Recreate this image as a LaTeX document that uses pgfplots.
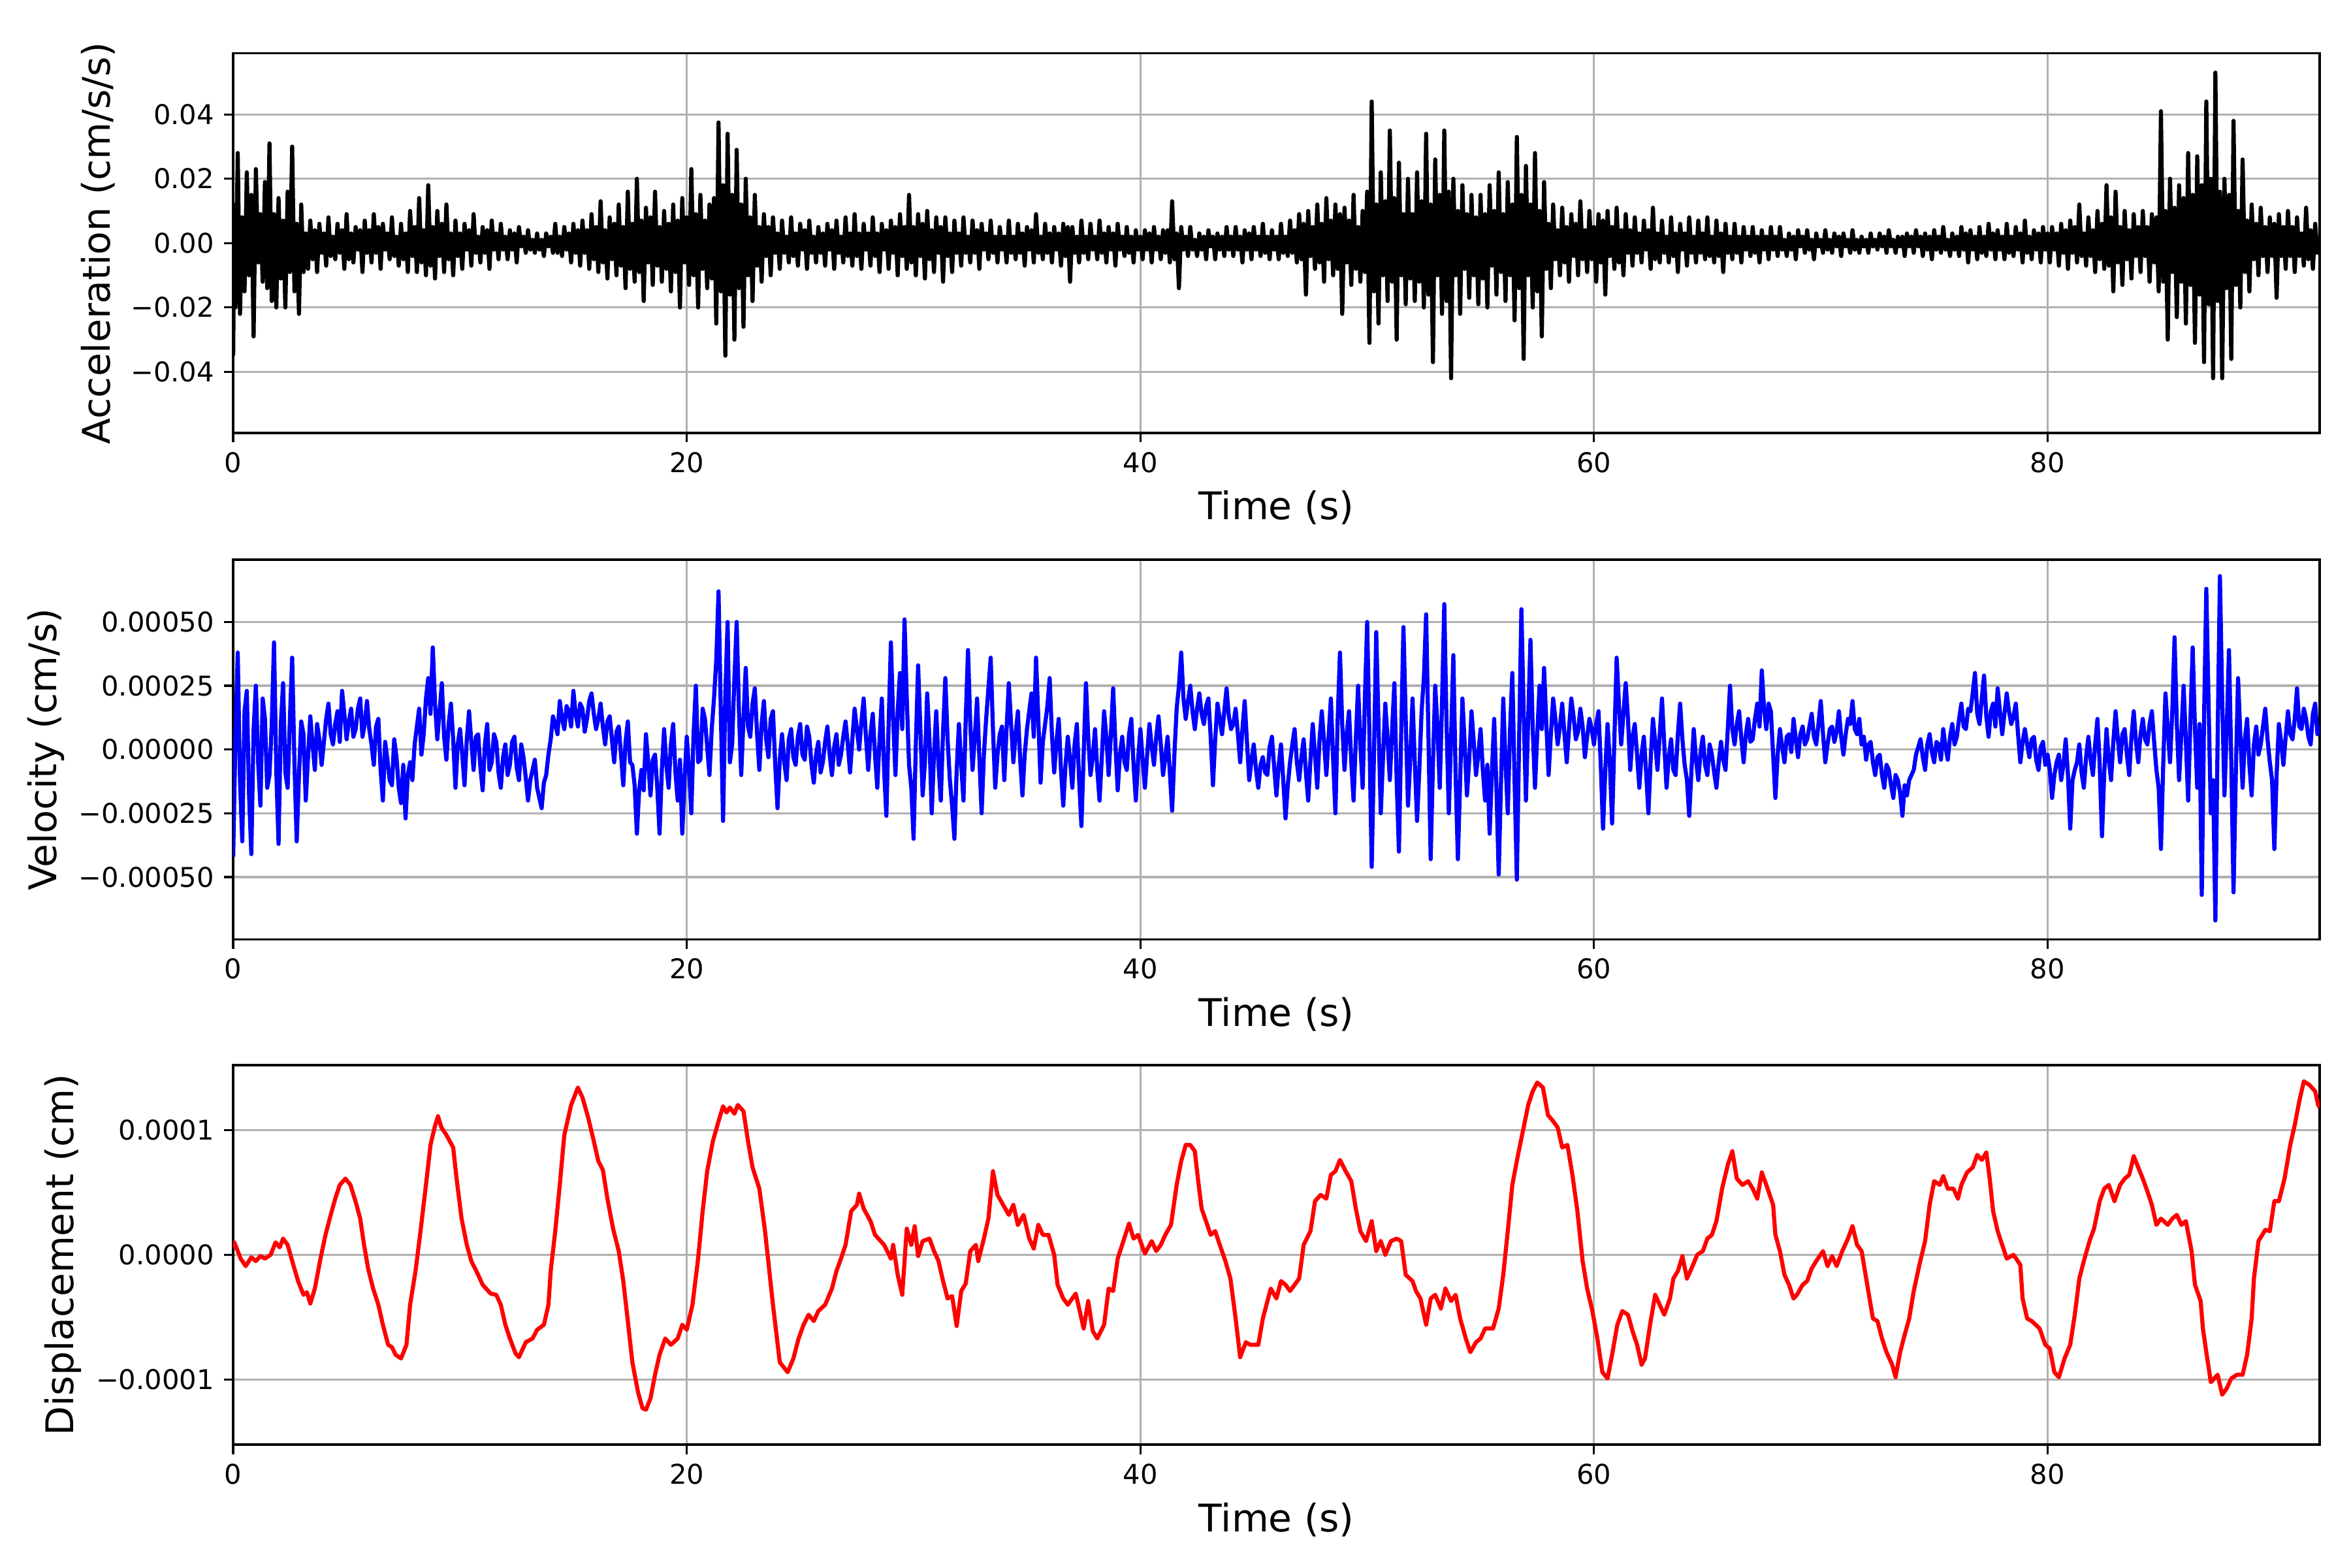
\documentclass[border=0pt]{standalone}
\usepackage{fontspec}
\setmainfont{DejaVu Sans}
\usepackage{pgfplots}
\usepackage{pgfplotstable}
\pgfplotsset{compat=1.18}
\definecolor{gridgray}{HTML}{B0B0B0}

% acceleration, a in units of 0.01 cm/s/s
\pgfplotstableread[row sep=\\]{t a\\
0 -3.5\\ 0.05 1.2\\ 0.1 -2.0\\ 0.2 2.8\\ 0.3 -2.2\\ 0.4 0.8\\ 0.5 -1.5\\ 0.6 2.2\\ 0.7 -1.0\\ 0.8 1.5\\ 0.9 -2.9\\ 1 2.3\\ 1.1 -0.6\\ 1.2 0.9\\ 1.3 -1.2\\ 1.4 1.9\\ 1.5 -1.4\\ 1.6 3.1\\ 1.7 -1.8\\ 1.8 0.9\\ 1.9 -2.0\\
2 1.4\\ 2.1 -1.1\\ 2.2 0.7\\ 2.3 -2.0\\ 2.4 1.6\\ 2.5 -0.9\\ 2.6 3.0\\ 2.7 -1.5\\ 2.8 0.6\\ 2.9 -2.2\\ 3 1.2\\ 3.1 -0.9\\ 3.2 0.3\\ 3.3 -0.8\\ 3.4 0.7\\ 3.5 -0.5\\ 3.6 0.4\\ 3.7 -0.9\\ 3.8 0.6\\ 3.9 -0.3\\
4 0.3\\ 4.1 -0.7\\ 4.2 0.8\\ 4.3 -0.4\\ 4.4 0.2\\ 4.5 -0.5\\ 4.6 0.6\\ 4.7 -0.3\\ 4.8 0.4\\ 4.9 -0.8\\ 5 0.9\\ 5.1 -0.5\\ 5.2 0.3\\ 5.3 -0.6\\ 5.4 0.5\\ 5.5 -0.2\\ 5.6 0.4\\ 5.7 -0.9\\ 5.8 0.7\\ 5.9 -0.3\\
6 0.4\\ 6.1 -0.6\\ 6.2 0.9\\ 6.3 -0.3\\ 6.4 0.5\\ 6.5 -0.8\\ 6.6 0.6\\ 6.7 -0.2\\ 6.8 0.3\\ 6.9 -0.5\\ 7 0.8\\ 7.1 -0.4\\ 7.2 0.2\\ 7.3 -0.7\\ 7.4 0.6\\ 7.5 -0.5\\ 7.6 0.3\\ 7.7 -0.9\\ 7.8 1.0\\ 7.9 -0.4\\
8 0.5\\ 8.1 -0.9\\ 8.2 1.4\\ 8.3 -0.6\\ 8.4 0.4\\ 8.5 -1.0\\ 8.6 1.8\\ 8.7 -0.7\\ 8.8 0.5\\ 8.9 -1.1\\ 9 1.0\\ 9.1 -0.4\\ 9.2 0.6\\ 9.3 -0.9\\ 9.4 1.2\\ 9.5 -0.5\\ 9.6 0.3\\ 9.7 -1.0\\ 9.8 0.7\\ 9.9 -0.4\\
10 0.3\\ 10.1 -0.8\\ 10.2 0.6\\ 10.3 -0.2\\ 10.4 0.4\\ 10.5 -0.7\\ 10.6 0.9\\ 10.7 -0.3\\ 10.8 0.2\\ 10.9 -0.6\\ 11 0.5\\ 11.1 -0.3\\ 11.2 0.4\\ 11.3 -0.8\\ 11.4 0.7\\ 11.5 -0.2\\ 11.6 0.3\\ 11.7 -0.5\\ 11.8 0.6\\ 11.9 -0.2\\
12 0.2\\ 12.1 -0.5\\ 12.2 0.4\\ 12.3 -0.2\\ 12.4 0.3\\ 12.5 -0.6\\ 12.6 0.5\\ 12.7 -0.1\\ 12.8 0.2\\ 12.9 -0.3\\ 13 0.4\\ 13.1 -0.2\\ 13.2 0.1\\ 13.3 -0.3\\ 13.4 0.3\\ 13.5 -0.2\\ 13.6 0.1\\ 13.7 -0.4\\ 13.8 0.3\\ 13.9 -0.1\\
14 0.2\\ 14.1 -0.3\\ 14.2 0.6\\ 14.3 -0.3\\ 14.4 0.2\\ 14.5 -0.4\\ 14.6 0.5\\ 14.7 -0.2\\ 14.8 0.3\\ 14.9 -0.6\\ 15 0.6\\ 15.1 -0.3\\ 15.2 0.4\\ 15.3 -0.7\\ 15.4 0.7\\ 15.5 -0.3\\ 15.6 0.4\\ 15.7 -0.8\\ 15.8 0.9\\ 15.9 -0.5\\
16 0.5\\ 16.1 -0.9\\ 16.2 1.3\\ 16.3 -0.6\\ 16.4 0.4\\ 16.5 -1.1\\ 16.6 0.8\\ 16.7 -0.5\\ 16.8 0.6\\ 16.9 -1.0\\ 17 1.2\\ 17.1 -0.7\\ 17.2 0.5\\ 17.3 -1.4\\ 17.4 1.6\\ 17.5 -0.8\\ 17.6 0.6\\ 17.7 -1.2\\ 17.8 2.0\\ 17.9 -0.9\\
18 0.7\\ 18.1 -1.8\\ 18.2 1.1\\ 18.3 -0.6\\ 18.4 0.8\\ 18.5 -1.3\\ 18.6 1.6\\ 18.7 -0.7\\ 18.8 0.5\\ 18.9 -1.2\\ 19 1.0\\ 19.1 -0.8\\ 19.2 0.6\\ 19.3 -1.5\\ 19.4 1.2\\ 19.5 -0.9\\ 19.6 0.7\\ 19.7 -2.0\\ 19.8 1.4\\ 19.9 -0.6\\
20 0.8\\ 20.1 -1.3\\ 20.2 2.3\\ 20.3 -1.0\\ 20.4 0.9\\ 20.5 -2.0\\ 20.6 1.5\\ 20.7 -0.8\\ 20.8 0.7\\ 20.9 -1.4\\ 21 1.2\\ 21.1 -1.1\\ 21.2 1.4\\ 21.3 -2.5\\ 21.4 3.75\\ 21.5 -1.5\\ 21.6 1.8\\ 21.7 -3.5\\ 21.8 3.4\\ 21.9 -1.6\\
22 1.5\\ 22.1 -3.0\\ 22.2 2.9\\ 22.3 -1.4\\ 22.4 1.2\\ 22.5 -2.6\\ 22.6 2.0\\ 22.7 -1.0\\ 22.8 0.8\\ 22.9 -1.8\\ 23 1.5\\ 23.1 -0.7\\ 23.2 0.5\\ 23.3 -1.2\\ 23.4 0.9\\ 23.5 -0.4\\ 23.6 0.5\\ 23.7 -1.0\\ 23.8 0.8\\ 23.9 -0.3\\
24 0.3\\ 24.1 -0.8\\ 24.2 0.7\\ 24.3 -0.3\\ 24.4 0.2\\ 24.5 -0.6\\ 24.6 0.8\\ 24.7 -0.4\\ 24.8 0.3\\ 24.9 -0.7\\ 25 0.6\\ 25.1 -0.2\\ 25.2 0.4\\ 25.3 -0.8\\ 25.4 0.7\\ 25.5 -0.3\\ 25.6 0.2\\ 25.7 -0.6\\ 25.8 0.5\\ 25.9 -0.3\\
26 0.3\\ 26.1 -0.7\\ 26.2 0.6\\ 26.3 -0.2\\ 26.4 0.4\\ 26.5 -0.8\\ 26.6 0.7\\ 26.7 -0.3\\ 26.8 0.2\\ 26.9 -0.6\\ 27 0.8\\ 27.1 -0.4\\ 27.2 0.3\\ 27.3 -0.7\\ 27.4 0.9\\ 27.5 -0.4\\ 27.6 0.3\\ 27.7 -0.8\\ 27.8 0.6\\ 27.9 -0.2\\
28 0.3\\ 28.1 -0.7\\ 28.2 0.8\\ 28.3 -0.4\\ 28.4 0.3\\ 28.5 -0.9\\ 28.6 0.6\\ 28.7 -0.2\\ 28.8 0.4\\ 28.9 -0.8\\ 29 0.7\\ 29.1 -0.3\\ 29.2 0.5\\ 29.3 -1.0\\ 29.4 0.9\\ 29.5 -0.4\\ 29.6 0.5\\ 29.7 -0.8\\ 29.8 1.5\\ 29.9 -0.6\\
30 0.5\\ 30.1 -1.0\\ 30.2 0.9\\ 30.3 -0.4\\ 30.4 0.6\\ 30.5 -1.1\\ 30.6 1.0\\ 30.7 -0.5\\ 30.8 0.4\\ 30.9 -0.9\\ 31 0.8\\ 31.1 -0.3\\ 31.2 0.5\\ 31.3 -1.2\\ 31.4 0.8\\ 31.5 -0.4\\ 31.6 0.3\\ 31.7 -0.9\\ 31.8 0.7\\ 31.9 -0.3\\
32 0.3\\ 32.1 -0.7\\ 32.2 0.8\\ 32.3 -0.3\\ 32.4 0.2\\ 32.5 -0.6\\ 32.6 0.7\\ 32.7 -0.3\\ 32.8 0.4\\ 32.9 -0.8\\ 33 0.6\\ 33.1 -0.2\\ 33.2 0.3\\ 33.3 -0.5\\ 33.4 0.7\\ 33.5 -0.3\\ 33.6 0.2\\ 33.7 -0.6\\ 33.8 0.5\\ 33.9 -0.2\\
34 0.2\\ 34.1 -0.6\\ 34.2 0.7\\ 34.3 -0.3\\ 34.4 0.2\\ 34.5 -0.5\\ 34.6 0.6\\ 34.7 -0.3\\ 34.8 0.3\\ 34.9 -0.7\\ 35 0.5\\ 35.1 -0.2\\ 35.2 0.4\\ 35.3 -0.6\\ 35.4 0.9\\ 35.5 -0.3\\ 35.6 0.2\\ 35.7 -0.5\\ 35.8 0.6\\ 35.9 -0.3\\
36 0.3\\ 36.1 -0.6\\ 36.2 0.5\\ 36.3 -0.2\\ 36.4 0.3\\ 36.5 -0.7\\ 36.6 0.6\\ 36.7 -0.4\\ 36.8 0.5\\ 36.9 -1.2\\ 37 0.5\\ 37.1 -0.3\\ 37.2 0.2\\ 37.3 -0.6\\ 37.4 0.7\\ 37.5 -0.3\\ 37.6 0.2\\ 37.7 -0.5\\ 37.8 0.6\\ 37.9 -0.2\\
38 0.2\\ 38.1 -0.5\\ 38.2 0.7\\ 38.3 -0.3\\ 38.4 0.3\\ 38.5 -0.6\\ 38.6 0.5\\ 38.7 -0.2\\ 38.8 0.3\\ 38.9 -0.7\\ 39 0.6\\ 39.1 -0.2\\ 39.2 0.2\\ 39.3 -0.4\\ 39.4 0.5\\ 39.5 -0.3\\ 39.6 0.2\\ 39.7 -0.6\\ 39.8 0.4\\ 39.9 -0.2\\
40 0.2\\ 40.1 -0.5\\ 40.2 0.4\\ 40.3 -0.2\\ 40.4 0.3\\ 40.5 -0.6\\ 40.6 0.5\\ 40.7 -0.2\\ 40.8 0.2\\ 40.9 -0.5\\ 41 0.4\\ 41.1 -0.3\\ 41.2 0.4\\ 41.3 -0.6\\ 41.4 1.3\\ 41.5 -0.5\\ 41.6 0.3\\ 41.7 -1.4\\ 41.8 0.5\\ 41.9 -0.2\\
42 0.2\\ 42.1 -0.4\\ 42.2 0.5\\ 42.3 -0.2\\ 42.4 0.1\\ 42.5 -0.4\\ 42.6 0.3\\ 42.7 -0.2\\ 42.8 0.2\\ 42.9 -0.5\\ 43 0.4\\ 43.1 -0.1\\ 43.2 0.2\\ 43.3 -0.5\\ 43.4 0.3\\ 43.5 -0.2\\ 43.6 0.2\\ 43.7 -0.4\\ 43.8 0.5\\ 43.9 -0.2\\
44 0.2\\ 44.1 -0.4\\ 44.2 0.5\\ 44.3 -0.2\\ 44.4 0.2\\ 44.5 -0.6\\ 44.6 0.4\\ 44.7 -0.2\\ 44.8 0.3\\ 44.9 -0.5\\ 45 0.5\\ 45.1 -0.2\\ 45.2 0.2\\ 45.3 -0.4\\ 45.4 0.6\\ 45.5 -0.3\\ 45.6 0.2\\ 45.7 -0.5\\ 45.8 0.4\\ 45.9 -0.2\\
46 0.2\\ 46.1 -0.5\\ 46.2 0.6\\ 46.3 -0.3\\ 46.4 0.2\\ 46.5 -0.4\\ 46.6 0.7\\ 46.7 -0.3\\ 46.8 0.4\\ 46.9 -0.6\\ 47 0.9\\ 47.1 -0.5\\ 47.2 0.6\\ 47.3 -1.6\\ 47.4 1.0\\ 47.5 -0.4\\ 47.6 0.5\\ 47.7 -0.8\\ 47.8 1.2\\ 47.9 -0.6\\
48 0.6\\ 48.1 -1.2\\ 48.2 1.4\\ 48.3 -0.5\\ 48.4 0.7\\ 48.5 -1.0\\ 48.6 1.2\\ 48.7 -0.8\\ 48.8 0.9\\ 48.9 -2.2\\ 49 1.1\\ 49.1 -0.6\\ 49.2 0.7\\ 49.3 -1.3\\ 49.4 1.5\\ 49.5 -0.8\\ 49.6 0.5\\ 49.7 -1.2\\ 49.8 1.0\\ 49.9 -0.9\\
50 1.6\\ 50.1 -3.1\\ 50.2 4.4\\ 50.3 -1.5\\ 50.4 1.2\\ 50.5 -2.5\\ 50.6 2.2\\ 50.7 -1.0\\ 50.8 1.3\\ 50.9 -1.8\\ 51 3.5\\ 51.1 -1.2\\ 51.2 1.4\\ 51.3 -3.0\\ 51.4 2.5\\ 51.5 -1.0\\ 51.6 0.9\\ 51.7 -1.9\\ 51.8 2.0\\ 51.9 -1.1\\
52 0.9\\ 52.1 -1.8\\ 52.2 2.2\\ 52.3 -1.2\\ 52.4 1.3\\ 52.5 -2.0\\ 52.6 3.4\\ 52.7 -1.6\\ 52.8 1.2\\ 52.9 -3.7\\ 53 2.6\\ 53.1 -1.0\\ 53.2 1.5\\ 53.3 -2.2\\ 53.4 3.5\\ 53.5 -1.8\\ 53.6 1.6\\ 53.7 -4.2\\ 53.8 2.0\\ 53.9 -1.0\\
54 1.0\\ 54.1 -2.2\\ 54.2 1.8\\ 54.3 -0.8\\ 54.4 0.9\\ 54.5 -1.7\\ 54.6 1.5\\ 54.7 -1.0\\ 54.8 0.8\\ 54.9 -1.9\\ 55 1.5\\ 55.1 -1.1\\ 55.2 0.9\\ 55.3 -2.0\\ 55.4 1.8\\ 55.5 -0.7\\ 55.6 1.0\\ 55.7 -1.6\\ 55.8 2.2\\ 55.9 -0.9\\
56 0.9\\ 56.1 -1.8\\ 56.2 1.9\\ 56.3 -1.0\\ 56.4 1.2\\ 56.5 -2.4\\ 56.6 3.3\\ 56.7 -1.4\\ 56.8 1.5\\ 56.9 -3.6\\ 57 2.4\\ 57.1 -1.0\\ 57.2 1.2\\ 57.3 -2.0\\ 57.4 2.8\\ 57.5 -1.5\\ 57.6 1.0\\ 57.7 -2.9\\ 57.8 1.9\\ 57.9 -0.8\\
58 0.6\\ 58.1 -1.4\\ 58.2 1.2\\ 58.3 -0.5\\ 58.4 0.4\\ 58.5 -1.0\\ 58.6 1.1\\ 58.7 -0.6\\ 58.8 0.5\\ 58.9 -1.2\\ 59 0.9\\ 59.1 -0.4\\ 59.2 0.6\\ 59.3 -1.0\\ 59.4 1.3\\ 59.5 -0.5\\ 59.6 0.4\\ 59.7 -0.9\\ 59.8 1.0\\ 59.9 -0.5\\
60 0.5\\ 60.1 -1.2\\ 60.2 0.9\\ 60.3 -0.6\\ 60.4 0.7\\ 60.5 -1.6\\ 60.6 1.0\\ 60.7 -0.4\\ 60.8 0.5\\ 60.9 -0.8\\ 61 1.1\\ 61.1 -0.6\\ 61.2 0.4\\ 61.3 -1.0\\ 61.4 0.9\\ 61.5 -0.3\\ 61.6 0.4\\ 61.7 -0.7\\ 61.8 0.8\\ 61.9 -0.3\\
62 0.3\\ 62.1 -0.6\\ 62.2 0.7\\ 62.3 -0.2\\ 62.4 0.4\\ 62.5 -0.8\\ 62.6 1.1\\ 62.7 -0.5\\ 62.8 0.3\\ 62.9 -0.6\\ 63 0.7\\ 63.1 -0.3\\ 63.2 0.2\\ 63.3 -0.6\\ 63.4 0.8\\ 63.5 -0.4\\ 63.6 0.3\\ 63.7 -0.9\\ 63.8 0.6\\ 63.9 -0.2\\
64 0.3\\ 64.1 -0.7\\ 64.2 0.8\\ 64.3 -0.3\\ 64.4 0.2\\ 64.5 -0.6\\ 64.6 0.7\\ 64.7 -0.3\\ 64.8 0.3\\ 64.9 -0.5\\ 65 0.8\\ 65.1 -0.4\\ 65.2 0.2\\ 65.3 -0.6\\ 65.4 0.7\\ 65.5 -0.4\\ 65.6 0.3\\ 65.7 -0.9\\ 65.8 0.6\\ 65.9 -0.3\\
66 0.2\\ 66.1 -0.5\\ 66.2 0.6\\ 66.3 -0.3\\ 66.4 0.2\\ 66.5 -0.6\\ 66.6 0.5\\ 66.7 -0.2\\ 66.8 0.2\\ 66.9 -0.4\\ 67 0.5\\ 67.1 -0.3\\ 67.2 0.2\\ 67.3 -0.6\\ 67.4 0.4\\ 67.5 -0.2\\ 67.6 0.2\\ 67.7 -0.5\\ 67.8 0.5\\ 67.9 -0.2\\
68 0.2\\ 68.1 -0.4\\ 68.2 0.5\\ 68.3 -0.2\\ 68.4 0.1\\ 68.5 -0.4\\ 68.6 0.3\\ 68.7 -0.2\\ 68.8 0.2\\ 68.9 -0.5\\ 69 0.4\\ 69.1 -0.1\\ 69.2 0.2\\ 69.3 -0.3\\ 69.4 0.4\\ 69.5 -0.2\\ 69.6 0.1\\ 69.7 -0.5\\ 69.8 0.3\\ 69.9 -0.1\\
70 0.1\\ 70.1 -0.3\\ 70.2 0.4\\ 70.3 -0.2\\ 70.4 0.1\\ 70.5 -0.3\\ 70.6 0.3\\ 70.7 -0.1\\ 70.8 0.2\\ 70.9 -0.4\\ 71 0.3\\ 71.1 -0.1\\ 71.2 0.1\\ 71.3 -0.3\\ 71.4 0.4\\ 71.5 -0.2\\ 71.6 0.1\\ 71.7 -0.3\\ 71.8 0.2\\ 71.9 -0.1\\
72 0.1\\ 72.1 -0.3\\ 72.2 0.3\\ 72.3 -0.1\\ 72.4 0.1\\ 72.5 -0.2\\ 72.6 0.3\\ 72.7 -0.1\\ 72.8 0.2\\ 72.9 -0.3\\ 73 0.4\\ 73.1 -0.1\\ 73.2 0.1\\ 73.3 -0.3\\ 73.4 0.2\\ 73.5 -0.1\\ 73.6 0.2\\ 73.7 -0.4\\ 73.8 0.3\\ 73.9 -0.1\\
74 0.2\\ 74.1 -0.3\\ 74.2 0.4\\ 74.3 -0.1\\ 74.4 0.2\\ 74.5 -0.4\\ 74.6 0.3\\ 74.7 -0.2\\ 74.8 0.2\\ 74.9 -0.5\\ 75 0.4\\ 75.1 -0.2\\ 75.2 0.2\\ 75.3 -0.3\\ 75.4 0.5\\ 75.5 -0.2\\ 75.6 0.1\\ 75.7 -0.4\\ 75.8 0.3\\ 75.9 -0.2\\
76 0.2\\ 76.1 -0.4\\ 76.2 0.5\\ 76.3 -0.2\\ 76.4 0.3\\ 76.5 -0.6\\ 76.6 0.4\\ 76.7 -0.2\\ 76.8 0.2\\ 76.9 -0.5\\ 77 0.5\\ 77.1 -0.3\\ 77.2 0.2\\ 77.3 -0.4\\ 77.4 0.6\\ 77.5 -0.2\\ 77.6 0.3\\ 77.7 -0.5\\ 77.8 0.4\\ 77.9 -0.2\\
78 0.2\\ 78.1 -0.5\\ 78.2 0.6\\ 78.3 -0.3\\ 78.4 0.2\\ 78.5 -0.4\\ 78.6 0.5\\ 78.7 -0.2\\ 78.8 0.3\\ 78.9 -0.6\\ 79 0.7\\ 79.1 -0.3\\ 79.2 0.2\\ 79.3 -0.5\\ 79.4 0.4\\ 79.5 -0.2\\ 79.6 0.3\\ 79.7 -0.6\\ 79.8 0.5\\ 79.9 -0.2\\
80 0.3\\ 80.1 -0.6\\ 80.2 0.5\\ 80.3 -0.2\\ 80.4 0.3\\ 80.5 -0.7\\ 80.6 0.6\\ 80.7 -0.3\\ 80.8 0.4\\ 80.9 -0.8\\ 81 0.7\\ 81.1 -0.3\\ 81.2 0.5\\ 81.3 -0.6\\ 81.4 1.2\\ 81.5 -0.4\\ 81.6 0.3\\ 81.7 -0.7\\ 81.8 0.8\\ 81.9 -0.4\\
82 0.4\\ 82.1 -0.9\\ 82.2 1.0\\ 82.3 -0.5\\ 82.4 0.6\\ 82.5 -0.8\\ 82.6 1.8\\ 82.7 -0.7\\ 82.8 0.8\\ 82.9 -1.5\\ 83 1.6\\ 83.1 -0.6\\ 83.2 0.5\\ 83.3 -1.3\\ 83.4 1.0\\ 83.5 -0.5\\ 83.6 0.4\\ 83.7 -1.1\\ 83.8 0.9\\ 83.9 -0.4\\
84 0.5\\ 84.1 -0.9\\ 84.2 1.0\\ 84.3 -0.4\\ 84.4 0.5\\ 84.5 -1.2\\ 84.6 0.9\\ 84.7 -0.6\\ 84.8 0.8\\ 84.9 -1.5\\ 85 4.1\\ 85.1 -1.2\\ 85.2 1.0\\ 85.3 -3.0\\ 85.4 2.0\\ 85.5 -0.9\\ 85.6 1.1\\ 85.7 -2.3\\ 85.8 1.8\\ 85.9 -1.2\\
86 1.4\\ 86.1 -2.5\\ 86.2 2.8\\ 86.3 -1.3\\ 86.4 1.5\\ 86.5 -3.1\\ 86.6 2.7\\ 86.7 -1.6\\ 86.8 1.8\\ 86.9 -3.7\\ 87 4.4\\ 87.1 -1.9\\ 87.2 2.0\\ 87.3 -4.2\\ 87.4 5.3\\ 87.5 -1.8\\ 87.6 1.6\\ 87.7 -4.2\\ 87.8 2.0\\ 87.9 -1.4\\
88 1.5\\ 88.1 -3.6\\ 88.2 3.8\\ 88.3 -1.3\\ 88.4 1.0\\ 88.5 -2.0\\ 88.6 2.6\\ 88.7 -0.9\\ 88.8 0.7\\ 88.9 -1.5\\ 89 1.2\\ 89.1 -0.5\\ 89.2 0.6\\ 89.3 -1.0\\ 89.4 1.1\\ 89.5 -0.4\\ 89.6 0.5\\ 89.7 -0.9\\ 89.8 0.8\\ 89.9 -0.4\\
90 0.6\\ 90.1 -1.7\\ 90.2 0.9\\ 90.3 -0.4\\ 90.4 0.5\\ 90.5 -0.8\\ 90.6 1.0\\ 90.7 -0.4\\ 90.8 0.5\\ 90.9 -0.9\\ 91 0.8\\ 91.1 -0.4\\ 91.2 0.3\\ 91.3 -0.7\\ 91.4 1.1\\ 91.5 -0.5\\ 91.6 0.4\\ 91.7 -0.8\\ 91.8 0.6\\ 91.9 -0.3\\
92 0.2\\
}\acc

% velocity, v in units of 0.0001 cm/s
\pgfplotstableread[row sep=\\]{t v\\
0 -4.2\\ 0.1 0.5\\ 0.2 3.8\\ 0.3 -1.2\\ 0.4 -3.6\\ 0.5 1.5\\ 0.6 2.3\\ 0.7 -1.8\\ 0.8 -4.1\\ 0.9 0.8\\ 1 2.5\\ 1.1 -0.5\\ 1.2 -2.2\\ 1.3 2.0\\ 1.4 1.2\\ 1.5 -1.5\\ 1.6 -1.0\\ 1.7 1.0\\ 1.8 4.2\\ 1.9 -0.8\\
2 -3.7\\ 2.1 1.0\\ 2.2 2.6\\ 2.3 -0.9\\ 2.4 -1.5\\ 2.5 1.2\\ 2.6 3.6\\ 2.7 -0.5\\ 2.8 -3.6\\ 2.9 -1.0\\ 3 1.1\\ 3.1 0.6\\ 3.2 -2.0\\ 3.3 -0.3\\ 3.4 1.3\\ 3.5 0.2\\ 3.6 -0.8\\ 3.7 1.0\\ 3.8 0.4\\ 3.9 -0.6\\
4 0.3\\ 4.1 1.2\\ 4.2 1.8\\ 4.3 0.6\\ 4.4 0.2\\ 4.5 1.0\\ 4.6 1.5\\ 4.7 0.3\\ 4.8 2.3\\ 4.9 1.4\\ 5 0.4\\ 5.1 1.1\\ 5.2 1.6\\ 5.3 0.5\\ 5.4 0.8\\ 5.5 1.6\\ 5.6 2.0\\ 5.7 0.5\\ 5.8 1.0\\ 5.9 1.9\\
6 0.8\\ 6.1 0.2\\ 6.2 -0.6\\ 6.3 0.9\\ 6.4 1.2\\ 6.5 -0.8\\ 6.6 -2.0\\ 6.7 0.3\\ 6.8 -0.4\\ 6.9 -1.2\\ 7 -1.4\\ 7.1 0.4\\ 7.2 -0.3\\ 7.3 -1.5\\ 7.4 -2.1\\ 7.5 -0.6\\ 7.6 -2.7\\ 7.7 -1.0\\ 7.8 -0.5\\ 7.9 -1.2\\
8 0.2\\ 8.1 0.9\\ 8.2 1.6\\ 8.3 -0.2\\ 8.4 0.6\\ 8.5 2.0\\ 8.6 2.8\\ 8.7 1.4\\ 8.8 4.0\\ 8.9 1.8\\ 9 0.4\\ 9.1 1.5\\ 9.2 2.6\\ 9.3 0.5\\ 9.4 -0.4\\ 9.5 1.0\\ 9.6 1.8\\ 9.7 0.4\\ 9.8 -1.5\\ 9.9 0.2\\
10 0.8\\ 10.1 -0.2\\ 10.2 -1.4\\ 10.3 0.4\\ 10.4 1.5\\ 10.5 0.3\\ 10.6 -0.8\\ 10.7 0.5\\ 10.8 0.6\\ 10.9 -0.7\\ 11 -1.6\\ 11.1 0.2\\ 11.2 1.0\\ 11.3 -0.8\\ 11.4 -0.5\\ 11.5 0.6\\ 11.6 0.3\\ 11.7 -0.9\\ 11.8 -1.5\\ 11.9 -0.3\\
12 0.2\\ 12.1 -1.0\\ 12.2 -0.6\\ 12.3 0.3\\ 12.4 0.5\\ 12.5 -0.7\\ 12.6 -1.2\\ 12.7 0.2\\ 12.8 -0.3\\ 12.9 -1.1\\ 13 -2.0\\ 13.1 -1.2\\ 13.2 -0.8\\ 13.3 -0.4\\ 13.4 -1.5\\ 13.5 -1.9\\ 13.6 -2.3\\ 13.7 -1.3\\ 13.8 -1.0\\ 13.9 -0.2\\
14 0.4\\ 14.1 1.3\\ 14.2 1.0\\ 14.3 0.6\\ 14.4 1.9\\ 14.5 1.2\\ 14.6 0.8\\ 14.7 1.7\\ 14.8 1.5\\ 14.9 0.9\\ 15 2.3\\ 15.1 1.4\\ 15.2 0.9\\ 15.3 1.8\\ 15.4 1.6\\ 15.5 0.7\\ 15.6 1.2\\ 15.7 1.9\\ 15.8 2.2\\ 15.9 1.4\\
16 0.8\\ 16.1 1.2\\ 16.2 1.8\\ 16.3 0.9\\ 16.4 0.2\\ 16.5 1.1\\ 16.6 1.3\\ 16.7 0.4\\ 16.8 -0.5\\ 16.9 0.7\\ 17 0.9\\ 17.1 -0.2\\ 17.2 -1.4\\ 17.3 0.3\\ 17.4 1.1\\ 17.5 -0.5\\ 17.6 -0.6\\ 17.7 -1.4\\ 17.8 -3.3\\ 17.9 -1.6\\
18 -0.8\\ 18.1 -1.6\\ 18.2 0.6\\ 18.3 -0.5\\ 18.4 -1.8\\ 18.5 -0.4\\ 18.6 -0.2\\ 18.7 -1.5\\ 18.8 -3.3\\ 18.9 -0.8\\ 19 0.8\\ 19.1 -0.6\\ 19.2 -1.5\\ 19.3 0.2\\ 19.4 1.0\\ 19.5 -0.9\\ 19.6 -2.0\\ 19.7 -0.4\\ 19.8 -3.3\\ 19.9 -1.2\\
20 0.5\\ 20.1 -0.8\\ 20.2 -2.5\\ 20.3 0.6\\ 20.4 2.5\\ 20.5 -0.5\\ 20.6 -0.4\\ 20.7 1.6\\ 20.8 1.2\\ 20.9 0.1\\ 21 -1.0\\ 21.1 0.8\\ 21.2 2.0\\ 21.3 3.5\\ 21.4 6.2\\ 21.5 1.5\\ 21.6 -2.8\\ 21.7 2.2\\ 21.8 5.0\\ 21.9 -0.5\\
22 0.2\\ 22.1 2.8\\ 22.2 5.0\\ 22.3 1.5\\ 22.4 -1.0\\ 22.5 1.2\\ 22.6 3.2\\ 22.7 0.9\\ 22.8 0.5\\ 22.9 1.8\\ 23 2.4\\ 23.1 0.6\\ 23.2 -0.8\\ 23.3 1.0\\ 23.4 1.9\\ 23.5 0.4\\ 23.6 -0.3\\ 23.7 1.2\\ 23.8 1.5\\ 23.9 -0.6\\
24 -2.3\\ 24.1 -0.4\\ 24.2 0.6\\ 24.3 -0.5\\ 24.4 -1.2\\ 24.5 0.4\\ 24.6 0.8\\ 24.7 -0.3\\ 24.8 -0.6\\ 24.9 0.5\\ 25 1.0\\ 25.1 -0.2\\ 25.2 -0.4\\ 25.3 0.9\\ 25.4 0.5\\ 25.5 -0.6\\ 25.6 -1.3\\ 25.7 -0.2\\ 25.8 0.3\\ 25.9 -0.9\\
26 -0.5\\ 26.1 0.3\\ 26.2 0.9\\ 26.3 -0.2\\ 26.4 -1.0\\ 26.5 0.1\\ 26.6 0.6\\ 26.7 -0.6\\ 26.8 -0.2\\ 26.9 0.5\\ 27 1.1\\ 27.1 0.2\\ 27.2 -0.9\\ 27.3 0.4\\ 27.4 1.6\\ 27.5 0.8\\ 27.6 0.0\\ 27.7 1.1\\ 27.8 2.0\\ 27.9 0.5\\
28 -0.8\\ 28.1 0.6\\ 28.2 1.4\\ 28.3 -0.2\\ 28.4 -1.5\\ 28.5 0.4\\ 28.6 2.0\\ 28.7 -0.8\\ 28.8 -2.6\\ 28.9 1.0\\ 29 4.2\\ 29.1 1.2\\ 29.2 -1.0\\ 29.3 1.5\\ 29.4 3.0\\ 29.5 0.8\\ 29.6 5.1\\ 29.7 2.0\\ 29.8 -0.6\\ 29.9 -1.5\\
30 -3.5\\ 30.1 0.2\\ 30.2 3.3\\ 30.3 0.8\\ 30.4 -1.8\\ 30.5 -0.5\\ 30.6 2.2\\ 30.7 0.4\\ 30.8 -2.5\\ 30.9 -0.2\\ 31 1.5\\ 31.1 -0.6\\ 31.2 -2.0\\ 31.3 0.7\\ 31.4 2.8\\ 31.5 0.4\\ 31.6 -1.2\\ 31.7 -2.2\\ 31.8 -3.5\\ 31.9 -0.8\\
32 1.0\\ 32.1 -0.6\\ 32.2 -2.0\\ 32.3 1.2\\ 32.4 3.9\\ 32.5 1.0\\ 32.6 -0.8\\ 32.7 0.5\\ 32.8 2.0\\ 32.9 -0.3\\ 33 -2.5\\ 33.1 -0.2\\ 33.2 1.2\\ 33.3 2.4\\ 33.4 3.6\\ 33.5 0.8\\ 33.6 -1.5\\ 33.7 -0.2\\ 33.8 0.6\\ 33.9 0.9\\
34 -1.2\\ 34.1 0.8\\ 34.2 2.6\\ 34.3 1.0\\ 34.4 -0.5\\ 34.5 0.6\\ 34.6 1.5\\ 34.7 -0.4\\ 34.8 -1.8\\ 34.9 -0.2\\ 35 0.8\\ 35.1 1.5\\ 35.2 2.2\\ 35.3 0.5\\ 35.4 3.6\\ 35.5 1.2\\ 35.6 -1.3\\ 35.7 0.3\\ 35.8 1.0\\ 35.9 1.7\\
36 2.8\\ 36.1 0.6\\ 36.2 -0.9\\ 36.3 0.3\\ 36.4 1.2\\ 36.5 -0.8\\ 36.6 -2.2\\ 36.7 -0.6\\ 36.8 0.5\\ 36.9 -0.4\\ 37 -1.5\\ 37.1 0.2\\ 37.2 1.0\\ 37.3 -1.2\\ 37.4 -3.0\\ 37.5 -0.2\\ 37.6 2.6\\ 37.7 0.5\\ 37.8 -1.0\\ 37.9 -0.3\\
38 0.8\\ 38.1 -0.8\\ 38.2 -2.0\\ 38.3 -0.3\\ 38.4 1.5\\ 38.5 0.5\\ 38.6 -1.0\\ 38.7 0.6\\ 38.8 2.4\\ 38.9 0.2\\ 39 -1.6\\ 39.1 -0.2\\ 39.2 0.5\\ 39.3 -0.5\\ 39.4 -0.8\\ 39.5 0.6\\ 39.6 1.2\\ 39.7 -0.6\\ 39.8 -2.0\\ 39.9 -0.4\\
40 0.8\\ 40.1 -0.4\\ 40.2 -1.5\\ 40.3 -0.2\\ 40.4 1.0\\ 40.5 0.1\\ 40.6 -0.6\\ 40.7 0.5\\ 40.8 1.3\\ 40.9 0.2\\ 41 -1.0\\ 41.1 -0.3\\ 41.2 0.5\\ 41.3 -0.9\\ 41.4 -2.4\\ 41.5 -0.2\\ 41.6 1.6\\ 41.7 2.5\\ 41.8 3.8\\ 41.9 2.0\\
42 1.2\\ 42.1 1.9\\ 42.2 2.5\\ 42.3 1.5\\ 42.4 0.8\\ 42.5 1.6\\ 42.6 2.2\\ 42.7 1.4\\ 42.8 1.0\\ 42.9 1.7\\ 43 2.0\\ 43.1 0.5\\ 43.2 -1.4\\ 43.3 0.4\\ 43.4 1.8\\ 43.5 1.2\\ 43.6 0.6\\ 43.7 1.5\\ 43.8 2.4\\ 43.9 1.3\\
44 0.8\\ 44.1 1.0\\ 44.2 1.6\\ 44.3 0.6\\ 44.4 -0.5\\ 44.5 0.8\\ 44.6 1.9\\ 44.7 0.3\\ 44.8 -1.2\\ 44.9 -0.4\\ 45 0.2\\ 45.1 -0.8\\ 45.2 -1.5\\ 45.3 -0.6\\ 45.4 -0.3\\ 45.5 -0.9\\ 45.6 -1.0\\ 45.7 0.1\\ 45.8 0.5\\ 45.9 -0.7\\
46 -1.8\\ 46.1 -0.6\\ 46.2 0.2\\ 46.3 -1.2\\ 46.4 -2.7\\ 46.5 -1.4\\ 46.6 -0.5\\ 46.7 0.2\\ 46.8 0.8\\ 46.9 -0.5\\ 47 -1.2\\ 47.1 -0.3\\ 47.2 0.4\\ 47.3 -0.9\\ 47.4 -2.0\\ 47.5 -0.4\\ 47.6 1.0\\ 47.7 -0.2\\ 47.8 -1.5\\ 47.9 0.4\\
48 1.5\\ 48.1 0.3\\ 48.2 -1.0\\ 48.3 0.5\\ 48.4 2.0\\ 48.5 -0.4\\ 48.6 -2.5\\ 48.7 1.2\\ 48.8 3.8\\ 48.9 1.0\\ 49 -0.8\\ 49.1 0.6\\ 49.2 1.5\\ 49.3 -0.5\\ 49.4 -2.0\\ 49.5 0.4\\ 49.6 2.5\\ 49.7 0.2\\ 49.8 -1.5\\ 49.9 2.0\\
50 5.0\\ 50.1 0.5\\ 50.2 -4.6\\ 50.3 -0.2\\ 50.4 4.6\\ 50.5 1.0\\ 50.6 -2.5\\ 50.7 -0.3\\ 50.8 1.8\\ 50.9 0.4\\ 51 -1.2\\ 51.1 0.8\\ 51.2 2.6\\ 51.3 -1.2\\ 51.4 -4.0\\ 51.5 0.6\\ 51.6 4.8\\ 51.7 1.2\\ 51.8 -2.2\\ 51.9 -0.4\\
52 2.0\\ 52.1 -0.5\\ 52.2 -2.8\\ 52.3 -0.8\\ 52.4 1.5\\ 52.5 2.8\\ 52.6 5.3\\ 52.7 0.6\\ 52.8 -4.3\\ 52.9 -0.6\\ 53 2.5\\ 53.1 0.9\\ 53.2 -1.5\\ 53.3 1.8\\ 53.4 5.7\\ 53.5 1.0\\ 53.6 -2.5\\ 53.7 0.5\\ 53.8 3.7\\ 53.9 -1.0\\
54 -4.3\\ 54.1 -1.2\\ 54.2 2.0\\ 54.3 0.2\\ 54.4 -1.8\\ 54.5 -0.4\\ 54.6 1.5\\ 54.7 0.3\\ 54.8 -1.0\\ 54.9 -0.2\\ 55 0.8\\ 55.1 -0.8\\ 55.2 -2.0\\ 55.3 -0.6\\ 55.4 -3.3\\ 55.5 -0.9\\ 55.6 1.2\\ 55.7 -1.5\\ 55.8 -4.9\\ 55.9 -1.3\\
56 2.0\\ 56.1 -0.5\\ 56.2 -2.5\\ 56.3 0.8\\ 56.4 3.0\\ 56.5 -1.2\\ 56.6 -5.1\\ 56.7 0.4\\ 56.8 5.5\\ 56.9 1.5\\ 57 -2.0\\ 57.1 1.2\\ 57.2 4.3\\ 57.3 0.8\\ 57.4 -1.5\\ 57.5 0.6\\ 57.6 2.5\\ 57.7 0.8\\ 57.8 3.2\\ 57.9 1.0\\
58 -1.0\\ 58.1 0.6\\ 58.2 2.0\\ 58.3 1.2\\ 58.4 0.2\\ 58.5 0.9\\ 58.6 1.8\\ 58.7 0.6\\ 58.8 -0.5\\ 58.9 0.8\\ 59 2.0\\ 59.1 1.3\\ 59.2 0.4\\ 59.3 0.7\\ 59.4 1.6\\ 59.5 0.9\\ 59.6 -0.3\\ 59.7 0.5\\ 59.8 1.2\\ 59.9 0.8\\
60 0.2\\ 60.1 1.0\\ 60.2 1.5\\ 60.3 -0.6\\ 60.4 -3.1\\ 60.5 -0.8\\ 60.6 1.0\\ 60.7 -0.5\\ 60.8 -2.9\\ 60.9 0.4\\ 61 3.6\\ 61.1 1.8\\ 61.2 0.2\\ 61.3 1.4\\ 61.4 2.6\\ 61.5 1.2\\ 61.6 -0.8\\ 61.7 0.5\\ 61.8 1.0\\ 61.9 -0.2\\
62 -1.5\\ 62.1 -0.2\\ 62.2 0.5\\ 62.3 -0.9\\ 62.4 -2.5\\ 62.5 -0.4\\ 62.6 1.2\\ 62.7 0.3\\ 62.8 -0.8\\ 62.9 0.6\\ 63 2.0\\ 63.1 0.2\\ 63.2 -1.5\\ 63.3 -0.3\\ 63.4 0.4\\ 63.5 -0.8\\ 63.6 -1.0\\ 63.7 0.6\\ 63.8 1.8\\ 63.9 0.4\\
64 -0.6\\ 64.1 -1.2\\ 64.2 -2.6\\ 64.3 -0.8\\ 64.4 0.8\\ 64.5 -0.4\\ 64.6 -1.2\\ 64.7 -0.1\\ 64.8 0.5\\ 64.9 -0.6\\ 65 -1.0\\ 65.1 0.2\\ 65.2 -0.2\\ 65.3 -0.9\\ 65.4 -1.5\\ 65.5 -0.5\\ 65.6 0.3\\ 65.7 -0.4\\ 65.8 -0.8\\ 65.9 0.8\\
66 2.5\\ 66.1 0.8\\ 66.2 0.2\\ 66.3 1.0\\ 66.4 1.5\\ 66.5 0.4\\ 66.6 -0.5\\ 66.7 0.6\\ 66.8 1.2\\ 66.9 0.3\\ 67 0.4\\ 67.1 1.2\\ 67.2 1.8\\ 67.3 0.9\\ 67.4 3.1\\ 67.5 1.6\\ 67.6 0.8\\ 67.7 1.8\\ 67.8 1.5\\ 67.9 -0.2\\
68 -1.9\\ 68.1 -0.2\\ 68.2 0.8\\ 68.3 0.1\\ 68.4 -0.5\\ 68.5 0.5\\ 68.6 0.6\\ 68.7 -0.1\\ 68.8 1.2\\ 68.9 0.4\\ 69 -0.3\\ 69.1 0.6\\ 69.2 0.9\\ 69.3 0.2\\ 69.4 0.4\\ 69.5 0.9\\ 69.6 1.4\\ 69.7 0.5\\ 69.8 0.2\\ 69.9 1.0\\
70 1.9\\ 70.1 0.6\\ 70.2 -0.5\\ 70.3 0.2\\ 70.4 0.8\\ 70.5 0.9\\ 70.6 0.3\\ 70.7 0.7\\ 70.8 1.5\\ 70.9 0.5\\ 71 -0.2\\ 71.1 0.6\\ 71.2 1.2\\ 71.3 1.0\\ 71.4 1.9\\ 71.5 0.8\\ 71.6 0.6\\ 71.7 1.2\\ 71.8 0.2\\ 71.9 0.5\\
72 -0.4\\ 72.1 0.2\\ 72.2 0.3\\ 72.3 -0.5\\ 72.4 -1.0\\ 72.5 -0.3\\ 72.6 -0.2\\ 72.7 -1.0\\ 72.8 -1.5\\ 72.9 -0.6\\ 73 -0.8\\ 73.1 -1.4\\ 73.2 -1.9\\ 73.3 -1.0\\ 73.4 -1.2\\ 73.5 -1.7\\ 73.6 -2.6\\ 73.7 -1.4\\ 73.8 -1.8\\ 73.9 -1.2\\
74 -1.0\\ 74.1 -0.8\\ 74.2 -0.2\\ 74.3 0.1\\ 74.4 0.4\\ 74.5 -0.3\\ 74.6 -0.8\\ 74.7 0.2\\ 74.8 0.6\\ 74.9 -0.1\\ 75 -0.5\\ 75.1 0.3\\ 75.2 0.2\\ 75.3 -0.4\\ 75.4 0.8\\ 75.5 0.1\\ 75.6 -0.4\\ 75.7 0.5\\ 75.8 1.0\\ 75.9 0.2\\
76 0.5\\ 76.1 1.2\\ 76.2 1.8\\ 76.3 0.9\\ 76.4 0.8\\ 76.5 1.6\\ 76.6 1.5\\ 76.7 2.2\\ 76.8 3.0\\ 76.9 1.4\\ 77 1.0\\ 77.1 2.0\\ 77.2 2.9\\ 77.3 1.3\\ 77.4 0.5\\ 77.5 1.5\\ 77.6 1.8\\ 77.7 0.9\\ 77.8 2.4\\ 77.9 1.5\\
78 0.6\\ 78.1 1.4\\ 78.2 2.2\\ 78.3 1.5\\ 78.4 1.0\\ 78.5 1.3\\ 78.6 1.8\\ 78.7 0.6\\ 78.8 -0.5\\ 78.9 0.3\\ 79 0.8\\ 79.1 0.2\\ 79.2 -0.3\\ 79.3 0.4\\ 79.4 0.5\\ 79.5 -0.4\\ 79.6 -0.8\\ 79.7 0.1\\ 79.8 0.3\\ 79.9 -0.6\\
80 -0.2\\ 80.1 -0.8\\ 80.2 -1.9\\ 80.3 -1.0\\ 80.4 -0.5\\ 80.5 -0.2\\ 80.6 -1.2\\ 80.7 -0.6\\ 80.8 0.4\\ 80.9 -1.0\\ 81 -3.1\\ 81.1 -1.2\\ 81.2 -0.8\\ 81.3 -0.5\\ 81.4 0.2\\ 81.5 -0.9\\ 81.6 -1.5\\ 81.7 -0.3\\ 81.8 0.5\\ 81.9 -0.4\\
82 -1.0\\ 82.1 0.2\\ 82.2 1.2\\ 82.3 -0.6\\ 82.4 -3.4\\ 82.5 -0.9\\ 82.6 0.8\\ 82.7 -0.4\\ 82.8 -1.2\\ 82.9 0.3\\ 83 1.5\\ 83.1 0.4\\ 83.2 -0.5\\ 83.3 0.6\\ 83.4 0.8\\ 83.5 -0.2\\ 83.6 -1.0\\ 83.7 0.5\\ 83.8 1.5\\ 83.9 0.3\\
84 -0.5\\ 84.1 0.6\\ 84.2 1.2\\ 84.3 0.4\\ 84.4 0.2\\ 84.5 1.0\\ 84.6 1.5\\ 84.7 0.3\\ 84.8 -0.8\\ 84.9 -1.5\\ 85 -3.9\\ 85.1 -0.6\\ 85.2 2.2\\ 85.3 0.8\\ 85.4 -0.5\\ 85.5 1.5\\ 85.6 4.4\\ 85.7 1.0\\ 85.8 -1.2\\ 85.9 0.6\\
86 2.5\\ 86.1 0.3\\ 86.2 -2.0\\ 86.3 1.2\\ 86.4 4.0\\ 86.5 0.8\\ 86.6 -1.5\\ 86.7 1.0\\ 86.8 -5.7\\ 86.9 1.2\\ 87 6.3\\ 87.1 1.8\\ 87.2 -2.5\\ 87.3 -1.2\\ 87.4 -6.7\\ 87.5 0.5\\ 87.6 6.8\\ 87.7 2.0\\ 87.8 -1.8\\ 87.9 0.8\\
88 3.9\\ 88.1 -0.4\\ 88.2 -5.6\\ 88.3 -1.0\\ 88.4 2.8\\ 88.5 0.6\\ 88.6 -1.5\\ 88.7 0.4\\ 88.8 1.2\\ 88.9 -0.6\\ 89 -1.8\\ 89.1 0.2\\ 89.2 0.9\\ 89.3 -0.2\\ 89.4 0.2\\ 89.5 0.9\\ 89.6 1.6\\ 89.7 0.4\\ 89.8 -0.5\\ 89.9 -1.2\\
90 -3.9\\ 90.1 -1.0\\ 90.2 1.0\\ 90.3 0.3\\ 90.4 -0.6\\ 90.5 0.5\\ 90.6 1.5\\ 90.7 0.6\\ 90.8 0.4\\ 90.9 1.2\\ 91 2.4\\ 91.1 0.9\\ 91.2 0.8\\ 91.3 1.6\\ 91.4 1.2\\ 91.5 0.5\\ 91.6 0.2\\ 91.7 1.4\\ 91.8 1.8\\ 91.9 0.6\\
92 0.9\\
}\vel

% displacement, d in units of 0.0001 cm
\pgfplotstableread[row sep=\\]{t d\\
0 0.05\\ 0.05 0.1\\ 0.33 -0.03\\ 0.55 -0.09\\ 0.8 -0.02\\ 1.0 -0.05\\ 1.2 -0.01\\ 1.4 -0.03\\ 1.65 0.0\\ 1.87 0.1\\
2.05 0.06\\ 2.2 0.13\\ 2.4 0.08\\ 2.65 -0.08\\ 2.86 -0.21\\ 3.1 -0.32\\ 3.25 -0.3\\ 3.4 -0.39\\ 3.6 -0.27\\ 3.85 -0.03\\
4.07 0.16\\ 4.3 0.32\\ 4.5 0.45\\ 4.7 0.56\\ 4.95 0.61\\ 5.17 0.56\\ 5.44 0.40\\ 5.6 0.29\\ 5.77 0.08\\ 5.95 -0.11\\
6.17 -0.27\\ 6.4 -0.40\\ 6.6 -0.56\\ 6.83 -0.72\\ 7.0 -0.74\\ 7.16 -0.80\\ 7.4 -0.83\\ 7.64 -0.72\\ 7.8 -0.40\\ 8.04 -0.13\\
8.26 0.19\\ 8.48 0.53\\ 8.7 0.88\\ 8.88 1.02\\ 9.03 1.11\\ 9.18 1.02\\ 9.4 0.96\\ 9.7 0.86\\ 9.85 0.61\\ 10.07 0.29\\
10.3 0.08\\ 10.5 -0.05\\ 10.8 -0.16\\ 11.0 -0.24\\ 11.35 -0.31\\ 11.6 -0.32\\ 11.8 -0.40\\ 12.0 -0.56\\ 12.2 -0.67\\ 12.45 -0.79\\
12.6 -0.82\\ 12.9 -0.70\\ 13.2 -0.67\\ 13.4 -0.60\\ 13.7 -0.56\\ 13.9 -0.40\\ 14.0 -0.13\\ 14.2 0.19\\ 14.4 0.56\\ 14.6 0.96\\
14.9 1.20\\ 15.2 1.34\\ 15.4 1.26\\ 15.65 1.10\\ 15.9 0.91\\ 16.1 0.75\\ 16.3 0.68\\ 16.5 0.45\\ 16.75 0.21\\ 17.0 0.03\\
17.2 -0.21\\ 17.4 -0.53\\ 17.6 -0.86\\ 17.85 -1.10\\ 18.05 -1.23\\ 18.2 -1.24\\ 18.4 -1.15\\ 18.6 -0.96\\ 18.8 -0.80\\ 19.05 -0.67\\
19.3 -0.72\\ 19.6 -0.67\\ 19.8 -0.56\\ 20.0 -0.60\\ 20.25 -0.40\\ 20.5 -0.03\\ 20.7 0.35\\ 20.9 0.67\\ 21.15 0.91\\ 21.4 1.07\\
21.6 1.19\\ 21.75 1.14\\ 21.9 1.18\\ 22.1 1.13\\ 22.25 1.20\\ 22.5 1.15\\ 22.7 0.91\\ 22.9 0.70\\ 23.2 0.53\\ 23.45 0.19\\
23.8 -0.40\\ 24.1 -0.86\\ 24.45 -0.94\\ 24.7 -0.83\\ 24.93 -0.67\\ 25.15 -0.56\\ 25.37 -0.48\\ 25.6 -0.53\\ 25.8 -0.45\\ 26.1 -0.40\\
26.4 -0.27\\ 26.6 -0.13\\ 26.8 -0.03\\ 27.0 0.08\\ 27.25 0.35\\ 27.5 0.40\\ 27.6 0.49\\ 27.8 0.37\\ 28.1 0.27\\ 28.3 0.16\\
28.7 0.08\\ 29.0 -0.03\\ 29.1 0.08\\ 29.3 -0.16\\ 29.5 -0.32\\ 29.7 0.21\\ 29.9 0.08\\ 30.05 0.23\\ 30.2 -0.01\\ 30.4 0.11\\
30.7 0.13\\ 30.9 0.03\\ 31.1 -0.05\\ 31.3 -0.21\\ 31.5 -0.35\\ 31.7 -0.33\\ 31.9 -0.57\\ 32.1 -0.29\\ 32.3 -0.23\\ 32.5 0.03\\
32.75 0.08\\ 32.85 -0.05\\ 33.1 0.13\\ 33.3 0.29\\ 33.5 0.67\\ 33.7 0.48\\ 33.95 0.40\\ 34.2 0.32\\ 34.4 0.40\\ 34.6 0.24\\
34.85 0.32\\ 35.1 0.13\\ 35.3 0.05\\ 35.5 0.24\\ 35.7 0.16\\ 35.95 0.16\\ 36.2 0.0\\ 36.35 -0.24\\ 36.6 -0.35\\ 36.8 -0.40\\
37.15 -0.31\\ 37.5 -0.59\\ 37.7 -0.37\\ 37.9 -0.61\\ 38.1 -0.67\\ 38.4 -0.56\\ 38.6 -0.27\\ 38.8 -0.29\\ 39.0 -0.03\\ 39.25 0.11\\
39.5 0.25\\ 39.7 0.13\\ 39.9 0.16\\ 40.2 0.01\\ 40.5 0.11\\ 40.7 0.03\\ 40.9 0.08\\ 41.1 0.16\\ 41.35 0.24\\ 41.6 0.56\\
41.8 0.75\\ 42.0 0.88\\ 42.2 0.88\\ 42.4 0.83\\ 42.55 0.59\\ 42.7 0.37\\ 42.95 0.24\\ 43.1 0.16\\ 43.3 0.19\\ 43.5 0.08\\
43.75 -0.05\\ 43.97 -0.19\\ 44.2 -0.51\\ 44.4 -0.82\\ 44.65 -0.70\\ 44.85 -0.72\\ 45.2 -0.72\\ 45.4 -0.51\\ 45.75 -0.27\\ 46.0 -0.35\\
46.2 -0.21\\ 46.4 -0.24\\ 46.6 -0.29\\ 47.0 -0.19\\ 47.2 0.08\\ 47.5 0.19\\ 47.7 0.43\\ 47.95 0.48\\ 48.2 0.45\\ 48.4 0.64\\
48.6 0.67\\ 48.8 0.76\\ 49.05 0.67\\ 49.3 0.59\\ 49.5 0.37\\ 49.7 0.19\\ 49.95 0.11\\ 50.2 0.27\\ 50.4 0.03\\ 50.6 0.11\\
50.8 0.0\\ 51.05 0.11\\ 51.3 0.13\\ 51.5 0.11\\ 51.7 -0.16\\ 52.0 -0.21\\ 52.15 -0.29\\ 52.35 -0.35\\ 52.6 -0.56\\ 52.8 -0.35\\
53.0 -0.32\\ 53.25 -0.43\\ 53.45 -0.27\\ 53.7 -0.37\\ 53.9 -0.32\\ 54.1 -0.51\\ 54.35 -0.67\\ 54.55 -0.78\\ 54.8 -0.70\\ 55.0 -0.67\\
55.2 -0.59\\ 55.55 -0.59\\ 55.8 -0.43\\ 56.0 -0.16\\ 56.2 0.19\\ 56.4 0.56\\ 56.65 0.80\\ 56.9 1.02\\ 57.1 1.20\\ 57.3 1.31\\
57.5 1.38\\ 57.75 1.34\\ 57.97 1.12\\ 58.2 1.07\\ 58.4 1.02\\ 58.6 0.86\\ 58.83 0.88\\ 59.05 0.64\\ 59.27 0.35\\ 59.5 -0.05\\
59.7 -0.27\\ 59.93 -0.45\\ 60.15 -0.67\\ 60.37 -0.94\\ 60.6 -0.99\\ 60.8 -0.80\\ 61.03 -0.56\\ 61.25 -0.45\\ 61.5 -0.48\\ 61.7 -0.61\\
61.9 -0.72\\ 62.1 -0.88\\ 62.25 -0.83\\ 62.5 -0.53\\ 62.7 -0.32\\ 62.9 -0.40\\ 63.1 -0.48\\ 63.35 -0.35\\ 63.5 -0.19\\ 63.7 -0.13\\
63.9 -0.01\\ 64.1 -0.19\\ 64.3 -0.11\\ 64.55 0.0\\ 64.8 0.03\\ 65.0 0.13\\ 65.2 0.16\\ 65.4 0.27\\ 65.65 0.53\\ 65.9 0.72\\
66.1 0.83\\ 66.3 0.61\\ 66.55 0.56\\ 66.8 0.59\\ 67.0 0.53\\ 67.2 0.45\\ 67.4 0.66\\ 67.6 0.56\\ 67.9 0.40\\ 68.0 0.16\\
68.2 0.03\\ 68.4 -0.16\\ 68.6 -0.24\\ 68.8 -0.35\\ 68.95 -0.32\\ 69.2 -0.24\\ 69.4 -0.21\\ 69.6 -0.11\\ 69.8 -0.05\\ 70.1 0.03\\
70.3 -0.09\\ 70.5 -0.01\\ 70.7 -0.09\\ 70.95 0.03\\ 71.2 0.13\\ 71.4 0.23\\ 71.6 0.08\\ 71.8 0.03\\ 72.05 -0.24\\ 72.3 -0.51\\
72.5 -0.53\\ 72.7 -0.67\\ 72.9 -0.78\\ 73.15 -0.88\\ 73.3 -0.98\\ 73.5 -0.78\\ 73.7 -0.64\\ 73.9 -0.51\\ 74.1 -0.29\\ 74.35 -0.08\\
74.6 0.11\\ 74.8 0.40\\ 75.0 0.59\\ 75.25 0.56\\ 75.4 0.63\\ 75.6 0.53\\ 75.85 0.53\\ 76.05 0.45\\ 76.2 0.56\\ 76.45 0.66\\
76.7 0.70\\ 76.9 0.80\\ 77.1 0.76\\ 77.3 0.82\\ 77.45 0.61\\ 77.6 0.35\\ 77.8 0.19\\ 78.0 0.08\\ 78.2 -0.03\\ 78.5 0.0\\
78.8 -0.08\\ 78.9 -0.35\\ 79.1 -0.51\\ 79.3 -0.53\\ 79.65 -0.59\\ 79.9 -0.72\\ 80.1 -0.75\\ 80.3 -0.94\\ 80.5 -0.98\\ 80.75 -0.83\\
81.0 -0.72\\ 81.2 -0.48\\ 81.4 -0.19\\ 81.6 -0.05\\ 81.85 0.11\\ 82.05 0.21\\ 82.3 0.43\\ 82.5 0.53\\ 82.7 0.56\\ 82.95 0.43\\
83.2 0.56\\ 83.4 0.61\\ 83.6 0.64\\ 83.8 0.79\\ 84.0 0.70\\ 84.2 0.61\\ 84.4 0.51\\ 84.6 0.40\\ 84.8 0.24\\ 85.0 0.29\\
85.3 0.24\\ 85.5 0.29\\ 85.7 0.32\\ 85.9 0.24\\ 86.1 0.27\\ 86.35 0.03\\ 86.5 -0.24\\ 86.75 -0.37\\ 86.85 -0.59\\ 87.0 -0.78\\
87.2 -1.02\\ 87.5 -0.96\\ 87.7 -1.12\\ 87.9 -1.07\\ 88.1 -0.99\\ 88.35 -0.96\\ 88.6 -0.96\\ 88.8 -0.80\\ 89.0 -0.51\\ 89.1 -0.19\\
89.3 0.11\\ 89.6 0.20\\ 89.8 0.19\\ 90.0 0.43\\ 90.2 0.43\\ 90.45 0.61\\ 90.7 0.88\\ 90.9 1.04\\ 91.1 1.23\\ 91.3 1.39\\
91.55 1.36\\ 91.8 1.31\\ 91.93 1.20\\ 92.0 1.18\\
}\disp

\pgfplotsset{
  mpl/.style={
    scale only axis, width=766.8pt, height=139.5pt,
    anchor=south west,
    xmin=0, xmax=92,
    xtick={0,20,40,60,80}, xticklabels={0,20,40,60,80},
    tick align=outside, xtick pos=bottom, ytick pos=left,
    major tick length=3.5pt,
    every tick/.style={black, line width=0.8pt},
    axis line style={line width=0.8pt},
    grid=major, major grid style={gridgray, line width=0.8pt},
    tick label style={font=\fontsize{10}{12}\selectfont},
    label style={font=\fontsize{14}{17}\selectfont},
    scaled y ticks=false, scaled x ticks=false,
    xlabel={Time (s)},
    xlabel style={at={([yshift=-31.9pt]axis description cs:0.5,0)}, anchor=base, inner sep=0pt},
    every axis plot/.append style={line width=1.5pt, line join=round},
  }
}

\begin{document}
\begin{tikzpicture}
\path[use as bounding box] (0,0) rectangle (864pt,576pt);

\begin{axis}[mpl, at={(85.7pt,416.9pt)},
  ymin=-0.059, ymax=0.059,
  ytick={-0.04,-0.02,0,0.02,0.04},
  yticklabels={−0.04,−0.02,0.00,0.02,0.04},
  ylabel={Acceleration (cm/s/s)},
  ylabel style={at={([xshift=-45.3pt]axis description cs:0,0.5)}, anchor=base, inner sep=0pt},
]
\addplot[black] table[x=t, y expr=\thisrow{a}*0.01]{\acc};
\end{axis}

\begin{axis}[mpl, at={(85.7pt,230.8pt)},
  ymin=-0.000744, ymax=0.000744,
  ytick={-0.0005,-0.00025,0,0.00025,0.0005},
  yticklabels={−0.00050,−0.00025,0.00000,0.00025,0.00050},
  ylabel={Velocity (cm/s)},
  ylabel style={at={([xshift=-64.9pt]axis description cs:0,0.5)}, anchor=base, inner sep=0pt},
]
\addplot[blue] table[x=t, y expr=\thisrow{v}*0.0001]{\vel};
\end{axis}

\begin{axis}[mpl, at={(85.7pt,45.1pt)},
  ymin=-0.000152, ymax=0.000152,
  ytick={-0.0001,0,0.0001},
  yticklabels={−0.0001,0.0000,0.0001},
  ylabel={Displacement (cm)},
  ylabel style={at={([xshift=-58.7pt]axis description cs:0,0.5)}, anchor=base, inner sep=0pt},
]
\addplot[red] table[x=t, y expr=\thisrow{d}*0.0001]{\disp};
\end{axis}
\end{tikzpicture}
\end{document}
